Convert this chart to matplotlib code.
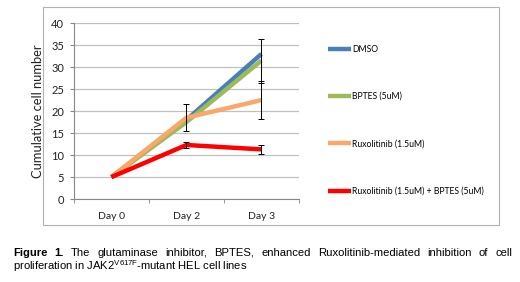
import matplotlib
matplotlib.use("Agg")
import matplotlib.pyplot as plt
from matplotlib.patches import Rectangle

# data
days = ["Day 0", "Day 2", "Day 3"]
dmso = [5, 18, 33]
bptes = [5, 17.5, 31.5]
rux = [5, 18.5, 22.5]
combo = [5, 12.3, 11.3]
dmso_err = [0, 0, 0]
bptes_err = [0, 0, 5]
rux_err = [0, 3.1, 4.4]
combo_err = [0, 0.7, 1.1]
labels = ["DMSO", "BPTES (5uM)", "Ruxolitinib (1.5uM)", "Ruxolitinib (1.5uM) + BPTES (5uM)"]
colors = ["#4a7ebb", "#9bbb59", "#f9a86a", "#ff0000"]
caption1 = "The glutaminase inhibitor, BPTES, enhanced Ruxolitinib-mediated inhibition of cell"
caption2 = r"proliferation in JAK2$^{\mathrm{V617F}}$-mutant HEL cell lines"

plt.rcParams["font.family"] = ["Lato", "DejaVu Sans"]
plt.rcParams["mathtext.fontset"] = "custom"
plt.rcParams["mathtext.rm"] = "Liberation Sans"

fig = plt.figure(figsize=(5.2, 2.82), dpi=100)
fig.patches.append(Rectangle((0.083, 0.202), 0.877, 0.773, transform=fig.transFigure,
                             fill=False, edgecolor="#b0b0b0", linewidth=0.8))

ax = fig.add_axes([0.142, 0.294, 0.433, 0.624])
x = range(len(days))
series = [dmso, bptes, rux, combo]
errs = [dmso_err, bptes_err, rux_err, combo_err]
for i, y in enumerate(series):
    ax.plot(x, y, color=colors[i], lw=3.2, label=labels[i], zorder=3 + i, solid_capstyle="butt")
for i, (y, e) in enumerate(zip(series, errs)):
    xs = [k for k in x if e[k] > 0]
    ax.errorbar(xs, [y[k] for k in xs], yerr=[e[k] for k in xs], fmt="none",
                ecolor="black", elinewidth=0.7, capsize=2.5, capthick=0.7, zorder=10)

ax.set_ylim(0, 40)
ax.set_yticks(range(0, 41, 5))
ax.set_xlim(-0.5, 2.5)
ax.set_xticks(list(x))
ax.set_xticklabels(days)
ax.set_xticks([-0.5, 0.5, 1.5, 2.5], minor=True)
ax.tick_params(axis="x", which="major", length=0, pad=9, labelsize=7.5, labelcolor="#222222")
ax.tick_params(axis="x", which="minor", length=3, color="#888888", direction="out")
ax.tick_params(axis="y", length=3, color="#888888", labelsize=8, labelcolor="#222222", pad=4)
ax.yaxis.grid(True, color="#c0c0c0", lw=0.9)
ax.set_axisbelow(True)
for s in ["top", "right"]:
    ax.spines[s].set_visible(False)
for s in ["left", "bottom"]:
    ax.spines[s].set_color("#888888")
    ax.spines[s].set_linewidth(0.8)
ax.set_ylabel("Cumulative cell number", fontsize=9.3, color="#222222", labelpad=5)

fig.legend(loc="upper left", bbox_to_anchor=(0.622, 0.857), frameon=False, fontsize=6.2,
           handlelength=2.7, handletextpad=0.15, labelspacing=4.45, borderpad=0)

# caption, first line justified between x0 and x1 (pixels)
cap_font = ["Liberation Sans", "DejaVu Sans"]
fs = 8.1
x0, x1 = 13, 512
words = [("Figure", "bold"), ("1.", "bold")] + [(w, "normal") for w in caption1.split()]
r = fig.canvas.get_renderer()
arts = []
for w, fw in words:
    arts.append(fig.text(0, 0.093, w, fontsize=fs, fontweight=fw, family=cap_font, va="baseline"))
widths = [a.get_window_extent(r).width for a in arts]
gap = (x1 - x0 - sum(widths)) / (len(arts) - 1)
pos = x0
for a, wd in zip(arts, widths):
    a.set_x(pos / 520)
    pos += wd + gap
fig.text(x0 / 520, 0.044, caption2, fontsize=fs, family=cap_font, va="baseline")

fig.savefig("out.png", dpi=100)
